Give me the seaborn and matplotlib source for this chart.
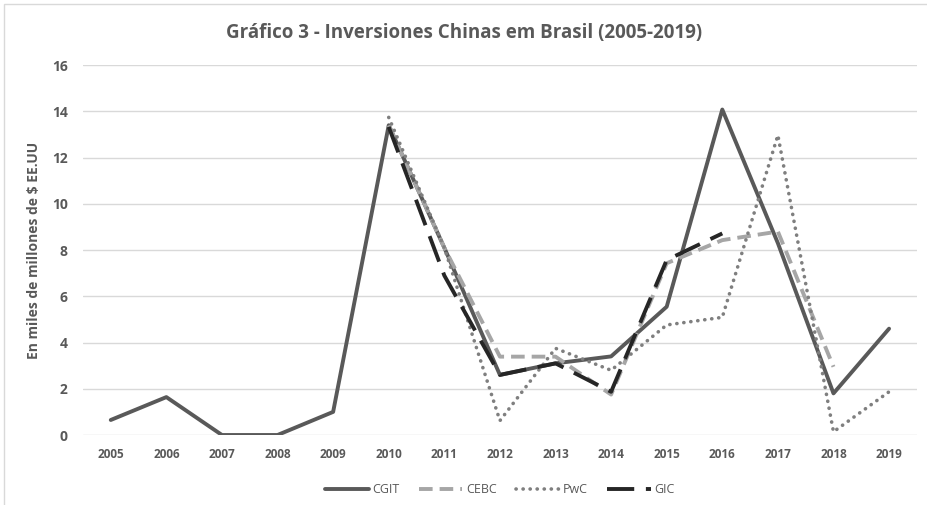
import pandas as pd
import numpy as np
import matplotlib
matplotlib.use("Agg")
import matplotlib.pyplot as plt
import seaborn as sns
from matplotlib.patches import Rectangle

years = list(range(2005, 2020))
cgit = [0.65, 1.64, 0.0, 0.0, 1.0, 13.4, 8.1, 2.6, 3.1, 3.4, 5.55, 14.08, 8.3, 1.8, 4.6]
cebc_years = list(range(2010, 2019))
cebc = [13.4, 8.1, 3.39, 3.39, 1.75, 7.43, 8.43, 8.8, 2.95]
pwc_years = list(range(2010, 2020))
pwc = [13.74, 8.1, 0.62, 3.75, 2.8, 4.76, 5.09, 12.97, 0.14, 1.87]
gic_years = list(range(2010, 2017))
gic = [13.33, 6.9, 2.6, 3.1, 1.87, 7.57, 8.72]

sns.set_style("white")
plt.rcParams["font.family"] = ["Open Sans", "DejaVu Sans"]

fig = plt.figure(figsize=(9.28, 5.05), dpi=100)
ax = fig.add_axes([0.0894, 0.1386, 0.8986, 0.7324])

tc = "#595959"
dot_style = (0, (0.05, 1.9))

sns.lineplot(x=years, y=cgit, ax=ax, color="#595959", lw=2.8, label="CGIT")
sns.lineplot(x=cebc_years, y=cebc, ax=ax, color="#A6A6A6", lw=2.8, label="CEBC")
ax.lines[-1].set_dashes([3.5, 1.8])
sns.lineplot(x=pwc_years, y=pwc, ax=ax, color="#7F7F7F", lw=2.6, label="PwC")
ax.lines[-1].set_linestyle(dot_style)
ax.lines[-1].set_dash_capstyle("round")
sns.lineplot(x=gic_years, y=gic, ax=ax, color="#262626", lw=2.8, label="GIC")
ax.lines[-1].set_dashes([7, 3])

ax.set_xlim(2004.5, 2019.5)
ax.set_ylim(0, 16)
ax.set_yticks(range(0, 17, 2))
ax.set_xticks(years)
ax.set_xticklabels([str(y) for y in years])
ax.yaxis.grid(True, color="#D9D9D9", lw=1)
ax.xaxis.grid(False)
for s in ax.spines.values():
    s.set_visible(False)
ax.tick_params(axis="both", length=0, colors=tc)
for lab in ax.get_xticklabels():
    lab.set_fontsize(8.5)
    lab.set_fontweight("bold")
for lab in ax.get_yticklabels():
    lab.set_fontsize(10)
    lab.set_fontweight("bold")
ax.tick_params(axis="x", pad=9)
ax.tick_params(axis="y", pad=11)
ax.set_ylabel("En miles de millones de $ EE.UU", fontsize=10, color=tc,
              fontweight="bold", labelpad=8)
ax.set_xlabel("")

fig.suptitle("Gráfico 3 - Inversiones Chinas em Brasil (2005-2019)", x=0.5, y=0.955,
             fontsize=13.5, fontweight="bold", color=tc)

leg = ax.legend(loc="upper center", bbox_to_anchor=(0.5, -0.1), ncol=4, frameon=False,
                fontsize=9, handlelength=3.5, columnspacing=1.5, handletextpad=0.3)
for t in leg.get_texts():
    t.set_color(tc)
leg.get_lines()[1].set_dashes([3.5, 1.8])
leg.get_lines()[2].set_linestyle(dot_style)
leg.get_lines()[2].set_dash_capstyle("round")
leg.get_lines()[3].set_dashes([7, 3])

fig.patches.append(Rectangle((0.004, -0.01), 1.0, 1.002, transform=fig.transFigure,
                             fill=False, edgecolor="#D9D9D9", lw=1))

fig.savefig("out.png", dpi=100)
